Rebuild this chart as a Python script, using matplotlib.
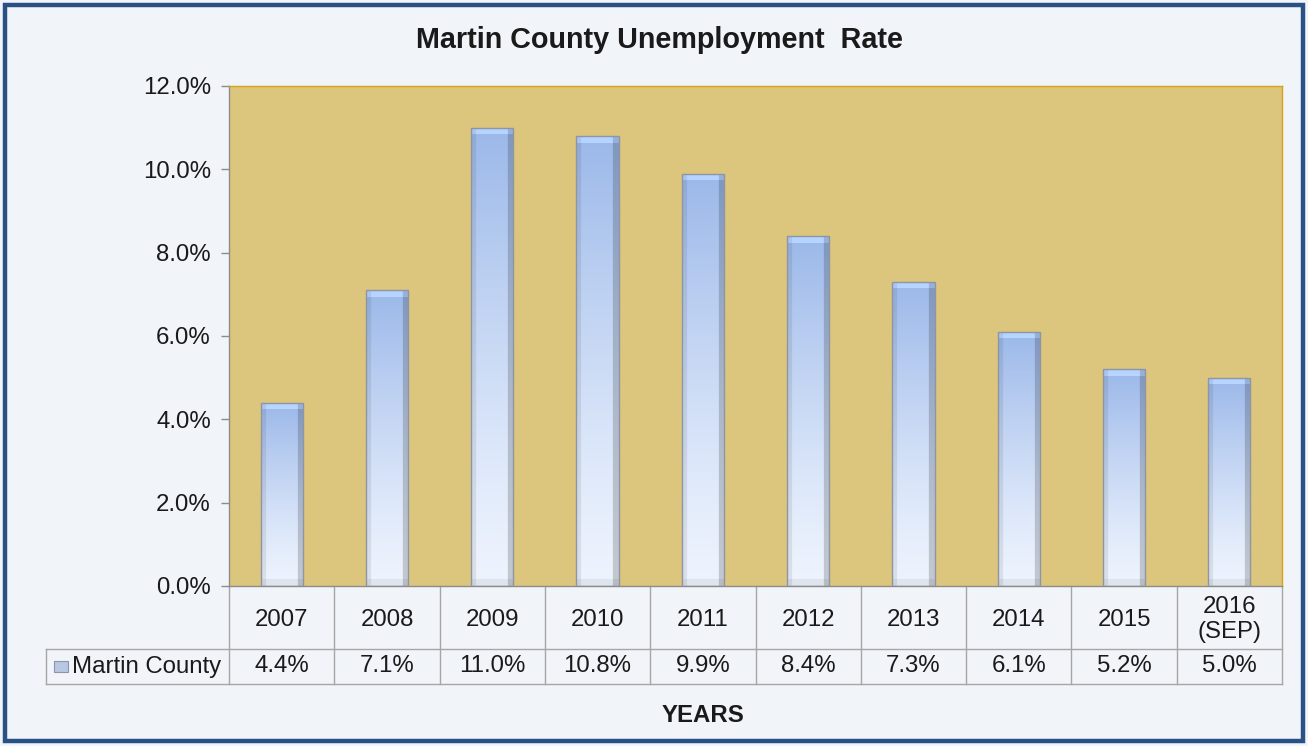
import numpy as np
import matplotlib
matplotlib.use("Agg")
import matplotlib.pyplot as plt
from matplotlib.patches import Rectangle
from matplotlib.transforms import blended_transform_factory

# data
years = ["2007", "2008", "2009", "2010", "2011", "2012", "2013", "2014", "2015", "2016\n(SEP)"]
rates = [4.4, 7.1, 11.0, 10.8, 9.9, 8.4, 7.3, 6.1, 5.2, 5.0]
series_name = "Martin County"
yticks = [0, 2, 4, 6, 8, 10, 12]

plt.rcParams['font.family'] = ['Liberation Sans', 'DejaVu Sans']

W, H = 1308, 746
fig = plt.figure(figsize=(W / 100, H / 100), dpi=100)
fig.patch.set_facecolor('#F1F4F9')

# outer border
fig.patches.append(Rectangle((5 / W, 5 / H), (W - 10) / W, (H - 10) / H,
                             transform=fig.transFigure, facecolor='none',
                             edgecolor='#2A5185', linewidth=3.2, zorder=0))

# plot area in pixels
x0, x1, ytop, ybot = 229, 1282, 86, 586
ax = fig.add_axes([x0 / W, (H - ybot) / H, (x1 - x0) / W, (ybot - ytop) / H])
ax.set_facecolor('#DCC57D')

for s in ['top', 'right']:
    ax.spines[s].set_color('#D9A21B')
    ax.spines[s].set_linewidth(1.0)
for s in ['left', 'bottom']:
    ax.spines[s].set_color('#8C8C8C')
    ax.spines[s].set_linewidth(1.0)

ax.set_yticks(yticks)
ax.set_yticklabels([f"{v:.1f}%" for v in yticks], fontsize=17.3, color='#1A1A1A')
ax.tick_params(axis='y', length=6, width=1, color='#8C8C8C', pad=7, direction='out')
ax.set_xticks([])

# bars
xs = np.arange(len(years))
bw = 0.4
bars = ax.bar(xs, rates, width=bw, facecolor='none', edgecolor='#8E96A3',
              linewidth=1.0, zorder=3)

top_c = np.array([155, 184, 233]) / 255
bot_c = np.array([238, 244, 254]) / 255
px_per_unit = (ybot - ytop) / 12.0
ncols = 42
for bar, v in zip(bars, rates):
    nrows = max(int(v * px_per_unit), 10)
    t = (np.linspace(0, 1, nrows)[::-1] ** 1.25)[:, None]  # row 0 = top
    img = (bot_c[None, None, :] * (1 - t[..., None]) + top_c[None, None, :] * t[..., None])
    img = np.repeat(img, ncols, axis=1)
    # side bevels
    u = np.linspace(0, 1, ncols)
    shade = np.ones(ncols)
    shade[u < 0.12] = 0.92
    shade[u > 0.86] = 0.82
    img = img * shade[None, :, None]
    # top and bottom bevels
    img[:7] = np.clip(img[:7] * 1.08 + 0.05, 0, 1)
    img[-7:] = np.clip(img[-7:] * 0.94, 0, 1)
    im = ax.imshow(img, extent=(bar.get_x(), bar.get_x() + bw, 0, v),
                   aspect='auto', zorder=2, interpolation='bilinear')
    im.set_clip_path(bar)

ax.set_ylim(0, 12)
ax.set_xlim(-0.5, len(years) - 0.5)

# data table below the plot
trans = blended_transform_factory(ax.transData, ax.transAxes)
ph = ybot - ytop
r1 = -(649 - ybot) / ph
r2 = -(684 - ybot) / ph
leg_x = (46 - x0) / (x1 - x0)
lc = '#A6A6A6'
for i in range(len(years) + 1):
    ax.plot([i - 0.5, i - 0.5], [0, r2], transform=trans, color=lc, lw=1, clip_on=False)
ax.plot([leg_x, 1], [r1, r1], transform=ax.transAxes, color=lc, lw=1, clip_on=False)
ax.plot([leg_x, 1], [r2, r2], transform=ax.transAxes, color=lc, lw=1, clip_on=False)
ax.plot([leg_x, leg_x], [r1, r2], transform=ax.transAxes, color=lc, lw=1, clip_on=False)

for x, yr, v in zip(xs, years, rates):
    ax.text(x, r1 / 2 - 0.004, yr, transform=trans, ha='center', va='center',
            fontsize=17.3, color='#1A1A1A', linespacing=1.2)
    ax.text(x, (r1 + r2) / 2, f"{v:.1f}%", transform=trans, ha='center', va='center',
            fontsize=17.3, color='#1A1A1A')

# legend key + series name
key_w = 14 / (x1 - x0)
key_h = 11 / ph
kx = (54 - x0) / (x1 - x0)
ky = (r1 + r2) / 2 - key_h / 2
ax.add_patch(Rectangle((kx, ky), key_w, key_h, transform=ax.transAxes,
                       facecolor='#B7C7E4', edgecolor='#8E96A3', lw=0.8, clip_on=False))
ax.text(kx + key_w + 4 / (x1 - x0), (r1 + r2) / 2, series_name, transform=ax.transAxes,
        ha='left', va='center', fontsize=17.3, color='#1A1A1A')

# titles
fig.text(659 / W, 1 - 40 / H, "Martin County Unemployment  Rate",
         ha='center', va='center', fontsize=20.7, fontweight='bold', color='#1A1A1A')
fig.text(703 / W, 1 - 716 / H, "YEARS", ha='center', va='center',
         fontsize=17.3, fontweight='bold', color='#1A1A1A')

fig.savefig("out.png", dpi=100, facecolor=fig.get_facecolor())
